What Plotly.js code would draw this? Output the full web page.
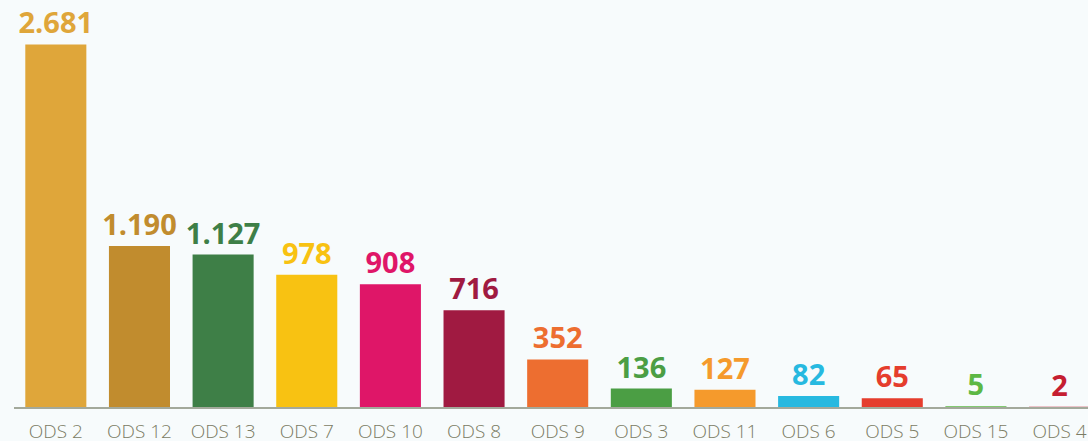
<!DOCTYPE html>
<html>
<head>
<meta charset="utf-8">
<script src="https://cdn.plot.ly/plotly-3.0.1.min.js"></script>
<style>
  html, body { margin: 0; padding: 0; background: #f7fbfc; overflow: hidden; }
  #grafico { width: 1088px; height: 441px; }
</style>
</head>
<body>
<div id="grafico"></div>
<script>
// Objetivos de Desarrollo Sostenible y número de registros
const ods = ["ODS 2", "ODS 12", "ODS 13", "ODS 7", "ODS 10", "ODS 8", "ODS 9",
             "ODS 3", "ODS 11", "ODS 6", "ODS 5", "ODS 15", "ODS 4"];
const valores = [2681, 1190, 1127, 978, 908, 716, 352, 136, 127, 82, 65, 5, 2];
const colores = ["#dfa63a", "#c18c2e", "#3e7f47", "#f8c212", "#df1668", "#a01a41",
                 "#ed6e30", "#4b9e44", "#f59a2c", "#27b9e0", "#e53d2d", "#5db844", "#c51e31"];

const barras = {
  type: "bar",
  x: ods,
  y: valores,
  marker: { color: colores },
  texttemplate: "%{y:,}",
  textposition: "outside",
  constraintext: "none",
  cliponaxis: false,
  textfont: { family: "Open Sans", size: 29, color: colores, weight: 700 },
  hoverinfo: "x+y"
};

const layout = {
  width: 1088,
  height: 441,
  margin: { l: 14, r: 0, t: 0, b: 34 },
  paper_bgcolor: "#f7fbfc",
  plot_bgcolor: "#f7fbfc",
  separators: ",.",
  showlegend: false,
  bargap: 0.27,
  xaxis: {
    range: [-0.5, 12.34],
    showline: true,
    linecolor: "#a3a99b",
    linewidth: 2,
    ticks: "",
    ticklabelstandoff: 6,
    tickfont: { family: "Open Sans", size: 19, color: "#7b7c64", weight: 300 },
    showgrid: false,
    zeroline: false
  },
  yaxis: {
    range: [0, 3010],
    visible: false,
    showgrid: false,
    zeroline: false
  }
};

Plotly.newPlot("grafico", [barras], layout, { displayModeBar: false, staticPlot: true });
</script>
</body>
</html>
